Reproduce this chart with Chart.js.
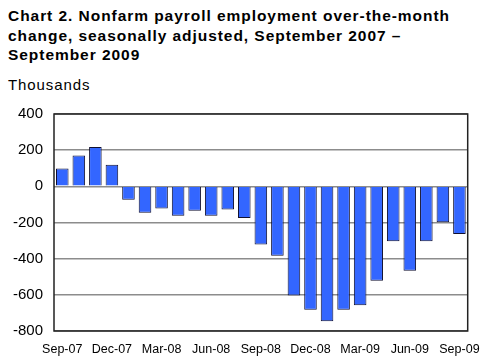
<!DOCTYPE html>
<html><head><meta charset="utf-8">
<script src="https://cdn.jsdelivr.net/npm/chart.js@4"></script>
<style>
html,body{margin:0;padding:0;background:#fff;}
#wrap{position:relative;width:491px;height:360px;overflow:hidden;font-family:"Liberation Sans",Arial,sans-serif;}
#title{position:absolute;left:8px;top:6px;font-weight:bold;font-size:15.5px;line-height:19.5px;color:#000;letter-spacing:0.95px;white-space:nowrap;}
#unit{position:absolute;left:8px;top:76px;font-size:15px;color:#000;letter-spacing:0.9px;}
canvas{position:absolute;left:0;top:0;}
</style></head>
<body><div id="wrap">
<div id="title">Chart 2. Nonfarm payroll employment over-the-month<br>change, seasonally adjusted, September 2007 –<br>September 2009</div>
<div id="unit">Thousands</div>
<canvas id="c" width="491" height="360"></canvas>
</div>
<script>
const months = ["Sep-07","Oct-07","Nov-07","Dec-07","Jan-08","Feb-08","Mar-08","Apr-08","May-08","Jun-08","Jul-08","Aug-08","Sep-08","Oct-08","Nov-08","Dec-08","Jan-09","Feb-09","Mar-09","Apr-09","May-09","Jun-09","Jul-09","Aug-09","Sep-09"];
const payrollChange = [98,170,218,120,-74,-146,-122,-163,-135,-163,-128,-175,-321,-384,-604,-683,-746,-683,-657,-522,-304,-467,-304,-199,-264];
const shownTickLabels = ["Sep-07","Dec-07","Mar-08","Jun-08","Sep-08","Dec-08","Mar-09","Jun-09","Sep-09"];
const yMin = -800, yMax = 400, yStep = 200;

const frame = {
  id:'frame',
  afterDraw(chart){
    const a = chart.chartArea, ctx = chart.ctx;
    ctx.save();
    ctx.strokeStyle = '#222';
    ctx.lineWidth = 1.5;
    ctx.strokeRect(a.left, a.top, a.right - a.left, a.bottom - a.top);
    ctx.restore();
  }
};

new Chart(document.getElementById('c'), {
  type:'bar',
  data:{labels:months, datasets:[{data:payrollChange, backgroundColor:'#3366FF', borderColor:'#101030', borderWidth:1, barPercentage:0.76, categoryPercentage:1}]},
  options:{
    responsive:false, animation:false,
    layout:{padding:{top:114,right:21,left:0,bottom:0}},
    plugins:{legend:{display:false}, tooltip:{enabled:false}},
    scales:{
      x:{
        grid:{display:false, drawTicks:false},
        border:{display:false},
        ticks:{autoSkip:false, maxRotation:0, minRotation:0, padding:11, color:'#000',
          font:{family:'"Liberation Sans", Arial, sans-serif', size:12.5},
          callback:function(v,i){const l=months[i]; return shownTickLabels.includes(l)?l:'';}},
        afterFit(s){s.height = 29;}
      },
      y:{
        min:yMin, max:yMax,
        grid:{color:'#8c8c8c', lineWidth:1.5, drawTicks:false},
        border:{display:false},
        ticks:{stepSize:yStep, padding:11, color:'#000', font:{family:'"Liberation Sans", Arial, sans-serif', size:15}},
        afterFit(s){s.width = 54;}
      }
    }
  },
  plugins:[frame]
});
</script>
</body></html>
